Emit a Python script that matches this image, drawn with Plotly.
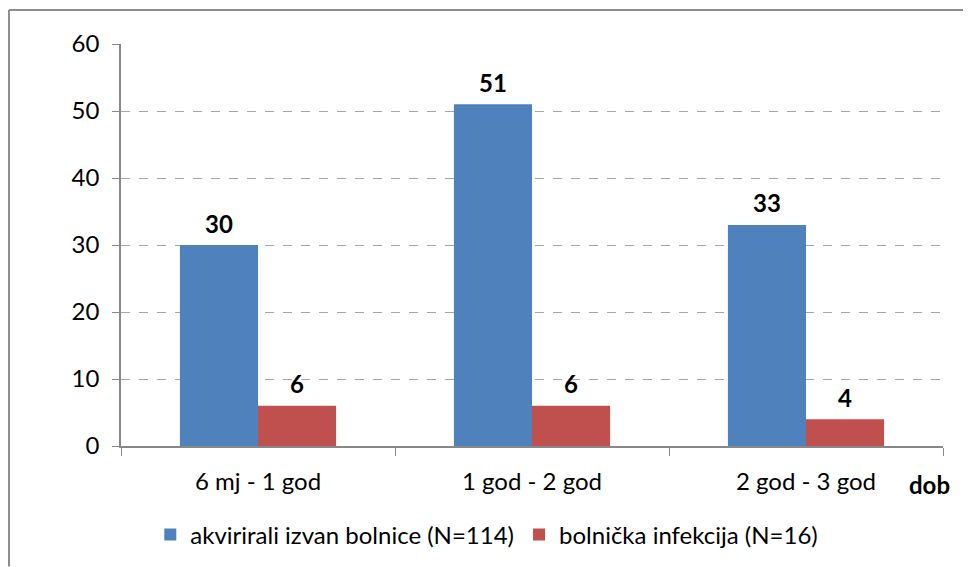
import plotly.graph_objects as go

categories = ["6 mj - 1 god", "1 god - 2 god", "2 god - 3 god"]
series_names = ["akvirirali izvan bolnice (N=114)", "bolnička infekcija (N=16)"]
vals_izvan = [30, 51, 33]
vals_bolnicka = [6, 6, 4]
y_ticks = [0, 10, 20, 30, 40, 50, 60]

FONT = "Lato"
FS = 24
BAR_W_PX = 78  # approx pixel width of each bar, used to centre the value labels

fig = go.Figure()
fig.add_trace(go.Bar(x=categories, y=vals_izvan, name=series_names[0],
                     marker=dict(color="#4F81BD", line=dict(width=0))))
fig.add_trace(go.Bar(x=categories, y=vals_bolnicka, name=series_names[1],
                     marker=dict(color="#C0504D", line=dict(width=0))))

annotations = []
for vals, shift in ((vals_izvan, -BAR_W_PX / 2), (vals_bolnicka, BAR_W_PX / 2)):
    for c, v in zip(categories, vals):
        annotations.append(dict(x=c, y=v, xref="x", yref="y", text=f"<b>{v}</b>",
                                showarrow=False, xshift=shift, yshift=22,
                                xanchor="center", yanchor="middle",
                                font=dict(family=FONT, size=FS, color="black")))
annotations.append(dict(text="<b>dob</b>", xref="paper", yref="paper", x=0.984, y=-0.095,
                        xanchor="center", yanchor="middle", showarrow=False,
                        font=dict(family=FONT, size=FS, color="black")))

border = dict(color="#8C8C8C", width=2)
fig.update_layout(
    width=971, height=567,
    margin=dict(l=113, r=36, t=36, b=129),
    paper_bgcolor="white", plot_bgcolor="white",
    barmode="group", bargap=0.43, bargroupgap=0,
    font=dict(family=FONT, size=FS, color="black"),
    showlegend=True,
    legend=dict(orientation="h", x=0.445, xanchor="center", y=-0.221, yanchor="middle",
                font=dict(family=FONT, size=FS), traceorder="normal"),
    xaxis=dict(type="category", tickson="boundaries", ticks="outside", ticklen=8,
               tickcolor="#888888", showline=True, linecolor="#888888", linewidth=1.5,
               showgrid=False, ticklabelstandoff=13, tickfont=dict(family=FONT, size=FS)),
    yaxis=dict(range=[0, 60], tickvals=y_ticks, ticks="outside", ticklen=7,
               tickcolor="#888888", showline=True, linecolor="#888888", linewidth=1.5,
               showgrid=True, gridcolor="#A6A6A6", griddash="dash", gridwidth=1,
               zeroline=False, ticklabelstandoff=8, tickfont=dict(family=FONT, size=FS)),
    shapes=[
        dict(type="line", xref="paper", yref="paper", x0=-0.1363, x1=-0.1363,
             y0=-0.30, y1=1.0846, line=border, layer="above"),
        dict(type="line", xref="paper", yref="paper", x0=-0.1363, x1=1.035,
             y0=1.0846, y1=1.0846, line=border, layer="above"),
    ],
    annotations=annotations,
)

fig.write_html("out.html")
